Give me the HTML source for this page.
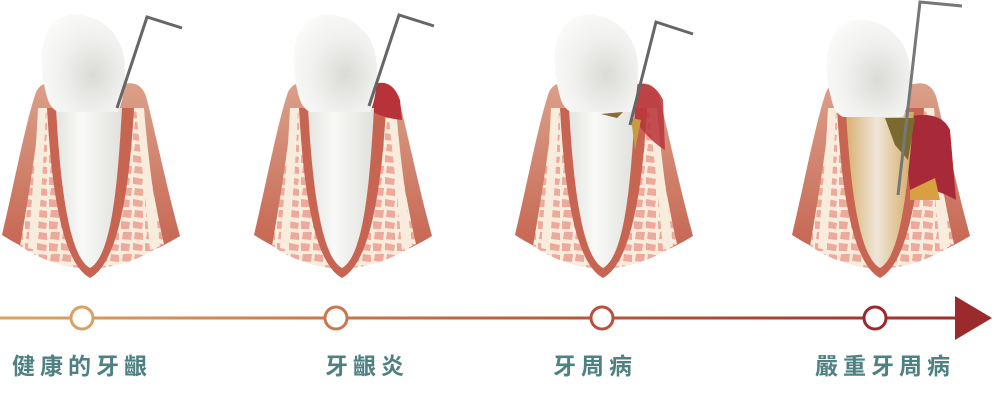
<!DOCTYPE html>
<html><head><meta charset="utf-8"><style>
html,body{margin:0;padding:0;background:#fff;width:1000px;height:400px;overflow:hidden}
.l{position:absolute;top:347px;font-family:"Liberation Sans","Noto Sans CJK TC",sans-serif;font-weight:bold;font-size:23px;color:#4f8082;letter-spacing:5px}
</style></head><body>
<svg width="1000" height="400" style="position:absolute;left:0;top:0">
<defs>
<linearGradient id="gum" x1="0" y1="0" x2="0" y2="1"><stop offset="0" stop-color="#dba08a"/><stop offset="1" stop-color="#c4614d"/></linearGradient>
<radialGradient id="crown" cx="0.62" cy="0.62" r="0.7"><stop offset="0" stop-color="#dadad7"/><stop offset="0.55" stop-color="#f0f0ee"/><stop offset="1" stop-color="#fafaf8"/></radialGradient>
<linearGradient id="root" x1="0" y1="0" x2="1" y2="0"><stop offset="0" stop-color="#e4e4e1"/><stop offset="0.4" stop-color="#f9f9f7"/><stop offset="1" stop-color="#e0e0dc"/></linearGradient>
<linearGradient id="rootY" x1="0" y1="0" x2="1" y2="0"><stop offset="0" stop-color="#d8b070"/><stop offset="0.45" stop-color="#efe6d8"/><stop offset="1" stop-color="#d4a860"/></linearGradient>
<linearGradient id="tl" gradientUnits="userSpaceOnUse" x1="0" y1="0" x2="990" y2="0"><stop offset="0" stop-color="#dba566"/><stop offset="0.5" stop-color="#c0603f"/><stop offset="1" stop-color="#9a2a2c"/></linearGradient>
<pattern id="bone" width="24" height="22" patternUnits="userSpaceOnUse">
<rect width="24" height="22" fill="#f8ecdc"/>
<path d="M1,1 L10,2 L9,9 L1,9Z M13,1 L23,3 L22,9 L13,8Z M3,12 L12,12 L11,20 L2,19Z M15,12 L23,13 L23,20 L14,19Z" fill="#eca99c"/>
</pattern>
<g id="base">
<path d="M2,235 C15,180 25,125 36,92 Q42,80 56,84 L124,84 Q140,80 146,96 C156,135 166,185 180,236 Q90,292 2,235Z" fill="url(#gum)"/>
<path d="M20,246 C28,200 36,150 40,108 L50,108 L130,108 L142,108 C146,150 154,200 164,244 Q90,292 20,246Z" fill="url(#bone)"/>
<path d="M38,108 L46,108 C44,160 40,210 36,250 L28,248 C32,200 36,150 38,108Z M136,108 L144,108 C148,160 156,210 160,246 L150,250 C146,200 140,150 136,108Z" fill="#f8ecdc"/>
<path d="M47,108 C51,180 60,262 90,278 C120,262 130,180 134,108Z" fill="#c86552"/>
</g>
<g id="crownG">
<path d="M48,100 C36,60 40,20 70,15 C100,12 126,35 125,70 C125,90 122,104 118,112 L58,112 C54,110 50,106 48,100Z" fill="url(#crown)"/>
</g>
</defs>

<g>
<use href="#base"/>
<path d="M56,108 C60,180 68,256 90,268 C112,256 118,180 122,108Z" fill="url(#root)"/>
<use href="#crownG"/>
<polyline points="117,108 147,17 182,28" fill="none" stroke="#666" stroke-width="3"/>
</g>

<g transform="translate(252,0)">
<use href="#base"/>
<path d="M122,84 Q140,78 148,100 L150,120 Q130,118 118,110Z" fill="#b8323a"/>
<path d="M56,108 C60,180 68,256 90,268 C112,256 118,180 122,108Z" fill="url(#root)"/>
<use href="#crownG"/>
<polyline points="117,106 147,15 182,26" fill="none" stroke="#666" stroke-width="3"/>
</g>

<g transform="translate(513,0)">
<use href="#base"/>
<path d="M118,86 Q140,78 150,100 L152,150 Q135,140 118,115Z" fill="#b8323a" opacity="0.85"/>
<path d="M56,108 C60,180 68,256 90,268 C112,256 118,180 122,108Z" fill="url(#root)"/>
<path d="M118,118 L128,120 L122,150Z" fill="#c99a40"/>
<path d="M88,114 L110,112 L104,118Z" fill="#8a6a30"/>
<use href="#crownG"/>
<polyline points="117,125 143,22 180,34" fill="none" stroke="#666" stroke-width="3"/>
</g>

<g transform="translate(790,0)">
<use href="#base"/>
<path d="M112,118 Q150,108 160,130 L166,200 Q140,185 120,190Z" fill="#a82a38"/>
<path d="M56,112 C60,180 68,256 90,268 C112,256 118,180 124,112Z" fill="url(#rootY)"/>
<path d="M95,118 L125,118 L118,160 L105,145Z" fill="#7a6a30"/>
<path d="M120,190 L145,178 L150,200 L120,200Z" fill="#d8a040"/>
<use href="#crownG" transform="translate(-5,5)"/>
<polyline points="108,195 130,2 172,6" fill="none" stroke="#777" stroke-width="3"/>
</g>

<rect x="0" y="316.5" width="962" height="3" fill="url(#tl)"/>
<polygon points="955,296 992,318 955,340" fill="#9a2a2c"/>
<circle cx="82" cy="318" r="11" fill="#fff" stroke="#d9a066" stroke-width="3"/>
<circle cx="336" cy="318" r="11" fill="#fff" stroke="#c9774c" stroke-width="3"/>
<circle cx="602" cy="318" r="11" fill="#fff" stroke="#b9513e" stroke-width="3"/>
<circle cx="875" cy="318" r="11" fill="#fff" stroke="#9a2a2c" stroke-width="3"/>
</svg>
<div class="l" style="left:12px">健康的牙齦</div>
<div class="l" style="left:325px">牙齦炎</div>
<div class="l" style="left:553px">牙周病</div>
<div class="l" style="left:815px">嚴重牙周病</div>
</body></html>
